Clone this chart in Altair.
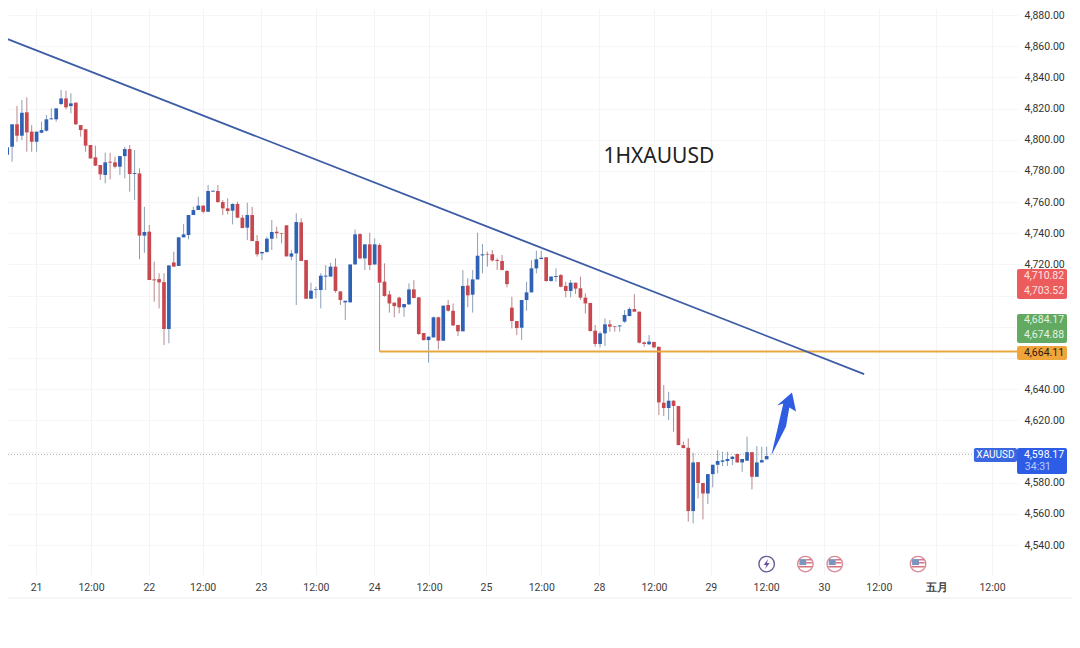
import altair as alt
import pandas as pd

opens = [4795.5,4790.4,4795.5,4809.9,4802.6,4817.6,4805.2,4798.7,4804.5,4805.8,4813.1,4813.1,4822.9,4826.5,4821.6,4823.8,4809.4,4806.7,4796.6,4788.7,
4783.8,4777.4,4785.9,4785.5,4782.7,4789.5,4794,4778,4778.4,4738.5,4741,4710.4,4710.6,4708.7,4678.6,4721.3,4719,4737.4,4738.9,4751.7,
4754.9,4757.7,4753.8,4766.7,4767.1,4760,4756,4754.5,4758.8,4750,4743.6,4751.7,4735,4727.1,4728,4736.5,4741,4740.2,4745.1,4725,
4727.1,4747,4722.8,4698,4703.6,4703.6,4712.2,4712.2,4718.6,4702.7,4695.7,4695.7,4720,4739.5,4723.9,4732.9,4720,4732.5,4709,4700.8,
4695.5,4698.7,4692.5,4694.4,4704,4698.9,4676,4671.5,4673.2,4686.1,4671.1,4694,4690.3,4681.2,4677.1,4706.4,4700.6,4710.4,4725.8,4726.5,
4726.5,4722.8,4722.2,4715.8,4692.3,4683.7,4679.4,4697.2,4702.1,4717.5,4723.5,4724.6,4709.4,4712,4713.2,4706.2,4703,4708.3,4704.7,4698.7,
4695.3,4677.5,4669,4675.8,4681.6,4680.5,4680.3,4683.3,4686.9,4691.4,4689.7,4670,4668.8,4670.3,4667.2,4631.3,4627.9,4632.6,4629.2,4604.1,
4602.4,4561.8,4593.2,4579.8,4573.1,4585.5,4591.5,4593.4,4593.9,4595.2,4598.4,4593,4594.1,4599.6,4583.8,4593,4595]
closes = [4790.4,4795.1,4809.9,4802.6,4817.3,4804.7,4798.7,4805.2,4806.2,4813.1,4813.7,4820.1,4826.5,4820.8,4823.3,4809.9,4806.2,4796.2,4788,4783.4,
4777.8,4785.5,4785.3,4782.7,4789.5,4794,4778,4778.6,4738.5,4740.8,4710,4709.8,4708.5,4678.6,4719.4,4718.6,4737.4,4739.3,4751.7,4754.9,
4757.7,4753.8,4767.1,4767.3,4760,4756,4754.3,4758.8,4750,4743.4,4751.7,4735,4726.5,4728,4736.5,4740.8,4740,4739.8,4725.2,4727.1,
4747.2,4722.2,4698,4703.2,4704,4712.8,4712.8,4718.6,4703,4697.2,4696.7,4720,4739.3,4723.9,4732.9,4719.6,4732.9,4708.3,4699.8,4695,
4693.3,4692.5,4694.6,4704,4698.5,4675.4,4671.5,4673.7,4686.1,4671.1,4693.5,4690.3,4680.9,4677.1,4706.2,4700.2,4710.4,4725.6,4726.5,4726.1,
4722.6,4722.2,4716.4,4707.4,4683.7,4679.2,4697.2,4702.1,4717.5,4723.3,4724.3,4709.4,4712.2,4712.6,4705.7,4703,4708.3,4704.5,4698.7,4695,
4677.3,4669,4675.8,4681.6,4680.1,4680.1,4680.9,4687.6,4691.4,4689.7,4669.8,4669,4670.5,4666.8,4631.5,4627.9,4632.6,4629.2,4604.1,4602.2,
4561.8,4593,4579.8,4573.1,4585.5,4591.5,4593.9,4594.3,4595.2,4596.7,4593,4595.2,4599.6,4583.8,4593,4594.5,4597.1]
highs = [4796.6,4798.7,4809.9,4821.6,4825.5,4827.2,4809.4,4805.2,4811.6,4815.9,4820.1,4820.1,4831.9,4831.5,4829.8,4823.8,4809.4,4806.7,4796.6,4796.2,
4783.8,4791.7,4791.7,4789.1,4789.5,4795.5,4796.6,4793.4,4781.6,4757,4745.3,4721.8,4714.3,4714.3,4719.4,4728.2,4737.4,4745.9,4751.7,4757,
4763.5,4758.1,4771,4767.3,4771,4761.3,4762.4,4759.2,4760.3,4751.7,4759.6,4757,4738.9,4728.2,4737.8,4748.5,4744.2,4740.2,4745.1,4729.3,
4752.8,4749.6,4722.8,4708.3,4705.7,4714.3,4719.6,4721.1,4723.9,4702.7,4696.7,4720,4742.5,4739.9,4732.9,4740.4,4736.7,4733.5,4720.7,4703.2,
4695.5,4699.3,4694.6,4707.9,4710,4698.9,4676,4673.7,4686.5,4686.5,4694,4697.2,4695,4681.2,4716.4,4711.1,4716.4,4740.4,4733.1,4728.2,
4729.3,4723.9,4726.1,4716.4,4699.3,4683.7,4697.2,4708.9,4722.8,4728.8,4728.8,4724.6,4712.6,4717.5,4713.9,4708.9,4710,4708.3,4712.2,4701.5,
4695.3,4681.2,4676.9,4685.4,4684.4,4680.5,4680.9,4690.8,4692.5,4701,4689.7,4670.5,4674.7,4670.3,4667.2,4642.6,4638.3,4633,4629.2,4606.3,
4608.4,4599.2,4593.2,4579.8,4585.5,4591.5,4600.9,4599.9,4599.9,4597.1,4598.8,4595.2,4609.5,4599.6,4603.5,4603.1,4603.1]
lows = [4782.3,4790.4,4785.9,4798.7,4799.8,4792.3,4792.3,4792.3,4804.1,4805.2,4813.1,4811.6,4822.3,4819.5,4816.9,4809.4,4802,4792.3,4788,4783.1,
4774.2,4772,4774.6,4781.6,4777.4,4775.2,4766.7,4761.3,4723.3,4727.5,4710,4696.1,4691.8,4668.3,4669.4,4718.6,4719,4737.4,4736.1,4751.7,
4754.9,4752.8,4753.8,4766.7,4759.6,4751.7,4752.1,4745.7,4749.6,4743.2,4735.7,4735,4725,4722.8,4727.5,4729.3,4736.7,4733.5,4725,4722.8,
4694,4722.2,4698,4698,4698.3,4691.8,4703.6,4712.2,4701.9,4694,4684.4,4695.5,4720,4723.3,4716.4,4716.4,4719.6,4708.3,4699.3,4689.1,
4686.1,4688.6,4686.5,4694,4698.3,4674.7,4671.1,4657,4673.2,4665.5,4671.1,4689.7,4680.5,4674.1,4677.1,4692.5,4689.1,4710.4,4714.3,4718.6,
4721.8,4716.4,4716.4,4705.3,4679,4674.7,4671.5,4690.3,4702.1,4714.3,4723.3,4708.9,4708.9,4708.9,4705.3,4698.9,4698.9,4701,4697.2,4688.6,
4676.9,4667.3,4666.8,4667.7,4676.9,4676.9,4676.9,4682.6,4686.9,4689.7,4669.4,4667.3,4668.3,4666.2,4623.4,4622.7,4620.2,4612.7,4604.1,4602.2,
4555,4553.9,4569.9,4556.5,4566.3,4577,4586,4590.7,4590.7,4591.3,4592.8,4587,4594.1,4575.7,4583.8,4593,4595]

tick_pos = [6.9,18.1,29.9,40.9,52.8,64,75.9,87.1,98.7,110,121.8,133,144.6,155.9,167.7,178.9,190.6,202]
tick_txt = ["21","12:00","22","12:00","23","12:00","24","12:00","25","12:00","28","12:00","29","12:00","30","12:00","五月","12:00"]
price_ticks = list(range(4540, 4881, 20))
covered_ticks = [4600, 4660, 4680, 4700]

X_DOM = [1.163, 207.3]
Y_DOM = [4520.8, 4884.5]
RED, BLUE = "#c8484f", "#2f62b5"
W_RED, W_BLUE = "#b9888c", "#8ba0b6"

n = min(len(opens), len(closes), len(highs), len(lows))
df = pd.DataFrame({"i": list(range(n)), "o": opens[:n], "c": closes[:n], "h": highs[:n], "l": lows[:n]})
df["top"] = df[["o", "c"]].max(axis=1)
df["bot"] = df[["o", "c"]].min(axis=1)
df["body"] = [BLUE if c >= o else RED for o, c in zip(df.o, df.c)]
df["wick"] = [W_BLUE if c >= o else W_RED for o, c in zip(df.o, df.c)]

js_pos = "[" + ",".join(str(t) for t in tick_pos) + "]"
js_txt = "[" + ",".join(f"'{t}'" for t in tick_txt) + "]"
js_cov = "[" + ",".join(str(t) for t in covered_ticks) + "]"
x_axis = alt.Axis(values=tick_pos, labelExpr=f"{js_txt}[indexof({js_pos}, datum.value)]", title=None,
                  domain=False, ticks=False, grid=True, gridColor="#f3f4f7", gridWidth=1,
                  labelFont="Roboto", labelFontSize=10.5, labelColor="#3c3c3c", labelPadding=7,
                  labelFlush=False, labelOverlap=False,
                  labelFontWeight={"condition": {"test": "datum.value == 190.6", "value": 700}, "value": 400})
y_axis = alt.Axis(values=price_ticks, labelExpr=f"indexof({js_cov}, datum.value) >= 0 ? '' : format(datum.value, ',.2f')",
                  orient="right", title=None, domain=False, ticks=False,
                  grid=True, gridColor="#f5f6f8", gridWidth=1, labelFont="Roboto", labelFontSize=10.5,
                  labelColor="#333333", labelPadding=6, labelOverlap=False, labelFlush=False)


def X(f="i", **k):
    return alt.X(f"{f}:Q", scale=alt.Scale(domain=X_DOM, nice=False, zero=False, padding=0), axis=x_axis, **k)


def Y(f="p", **k):
    return alt.Y(f"{f}:Q", scale=alt.Scale(domain=Y_DOM, nice=False, zero=False), axis=y_axis, **k)


sep = alt.Chart(pd.DataFrame({"a": [0]})).mark_rule(color="#ececef", strokeWidth=1).encode(
    x=alt.value(0), x2=alt.value(1064), y=alt.value(590))

price_line = alt.Chart(pd.DataFrame({"i": [X_DOM[0], X_DOM[1]], "p": [4598.17, 4598.17]})).mark_line(
    color="#9a9a9a", strokeWidth=0.8, strokeDash=[1, 2]).encode(x=X(), y=Y())

wicks = alt.Chart(df).mark_rule(strokeWidth=1).encode(x=X(), y=Y("h"), y2="l:Q", color=alt.Color("wick:N", scale=None))
bodies = alt.Chart(df).mark_bar(size=3.7).encode(x=X(), y=Y("top"), y2="bot:Q", color=alt.Color("body:N", scale=None))

drop = alt.Chart(pd.DataFrame({"i": [77, 77], "p": [4708, 4664.11]})).mark_line(color="#b0907a", strokeWidth=1).encode(x=X(), y=Y())
level = alt.Chart(pd.DataFrame({"i": [77, X_DOM[1]], "p": [4664.11, 4664.11]})).mark_line(color="#e8a73f", strokeWidth=2).encode(x=X(), y=Y())
trend = alt.Chart(pd.DataFrame({"i": [-0.47, 175.9], "p": [4866.5, 4649.7]})).mark_line(color="#3d5ca6", strokeWidth=1.8).encode(x=X(), y=Y())

arrow_path = "M -12 32 L -5.3 3 L 0 -20 L -6.3 -18 L 8.7 -31 L 12.7 -12 L 6 -16 L 2.7 3 Z"
arrow = alt.Chart(pd.DataFrame({"i": [159.4], "p": [4618]})).mark_point(
    shape=arrow_path, size=4, filled=True, color="#2f5ce0", opacity=1).encode(x=X(), y=Y())

title = alt.Chart(pd.DataFrame({"i": [134], "p": [4789.0], "t": ["1HXAUUSD"]})).mark_text(
    font="Noto Sans", fontSize=21, color="#222222", align="center", baseline="middle").encode(x=X(), y=Y(), text="t:N")

tags = pd.DataFrame({
    "i": [207.1, 207.1, 207.1, 207.1, 198.3],
    "i2": [217.3, 217.3, 217.3, 217.3, 207.1],
    "p": [4717.1, 4688.2, 4667.7, 4602.3, 4602.3],
    "p2": [4697.8, 4669.6, 4658.7, 4585.6, 4593.3],
    "fill": ["#ec5c5c", "#62aa62", "#efa43c", "#2d5ce6", "#3a66e0"],
})
tag_rects = alt.Chart(tags).mark_rect(cornerRadius=2).encode(x=X(), x2="i2:Q", y=Y(), y2="p2:Q", color=alt.Color("fill:N", scale=None))

tag_text = pd.DataFrame({
    "i": [208.5, 208.5, 208.5, 208.5, 208.5, 208.5, 208.7],
    "p": [4712.3, 4703, 4684.4, 4674.7, 4663.2, 4597.8, 4590.1],
    "t": ["4,710.82", "4,703.52", "4,684.17", "4,674.88", "4,664.11", "4,598.17", "34:31"],
    "col": ["#fde3e3", "#fde3e3", "#e3f3e3", "#e3f3e3", "#2a2010", "#ffffff", "#b9ccff"],
})
tag_labels = alt.Chart(tag_text).mark_text(font="Roboto", fontSize=10.5, align="left", baseline="middle").encode(
    x=X(), y=Y(), text="t:N", color=alt.Color("col:N", scale=None))
sym_label = alt.Chart(pd.DataFrame({"i": [202.7], "p": [4597.8], "t": ["XAUUSD"]})).mark_text(
    font="Roboto", fontSize=10, color="#ffffff", align="center", baseline="middle").encode(x=X(), y=Y(), text="t:N")

flags_i = [163.9, 169.9, 186.9]
flag_df = pd.DataFrame({"i": flags_i, "p": [4527.8] * 3})
bolt_df = pd.DataFrame({"i": [156], "p": [4527.8]})
icon_rings = alt.Chart(pd.concat([flag_df, bolt_df]).assign(c=["#d98a97"] * 3 + ["#6d5a96"])).mark_point(
    shape="circle", size=240, filled=True, fill="white", strokeWidth=1.4, opacity=1).encode(
    x=X(), y=Y(), stroke=alt.Stroke("c:N", scale=None))
canton = alt.Chart(flag_df).mark_point(shape="M -6 -5 L 1 -5 L 1 1 L -6 1 Z", size=4, filled=True, color="#7d95bd", opacity=1).encode(x=X(), y=Y())
stripes = alt.Chart(flag_df).mark_point(
    shape="M 1 -5 L 6 -5 L 6 -3.5 L 1 -3.5 Z M 1 -2 L 6.5 -2 L 6.5 -0.5 L 1 -0.5 Z M -6.5 2 L 6.5 2 L 6.5 3.5 L -6.5 3.5 Z",
    size=4, filled=True, color="#d7737f", opacity=1).encode(x=X(), y=Y())
bolt = alt.Chart(bolt_df).mark_point(shape="M 1.5 -5 L -3 1 L -0.3 1 L -1.5 5 L 3 -1 L 0.3 -1 Z", size=4, filled=True,
                                     color="#6d4f9e", opacity=1).encode(x=X(), y=Y())

chart = alt.layer(sep, price_line, wicks, bodies, drop, level, trend, arrow, title,
                  icon_rings, canton, stripes, bolt, tag_rects, tag_labels, sym_label).properties(
    width=1010, height=567, autosize="none",
    padding={"left": 0, "top": 0, "right": 54, "bottom": 57},
    background="white",
).configure_view(stroke=None)

chart.save("out.html", embed_options={"renderer": "svg", "actions": False})
